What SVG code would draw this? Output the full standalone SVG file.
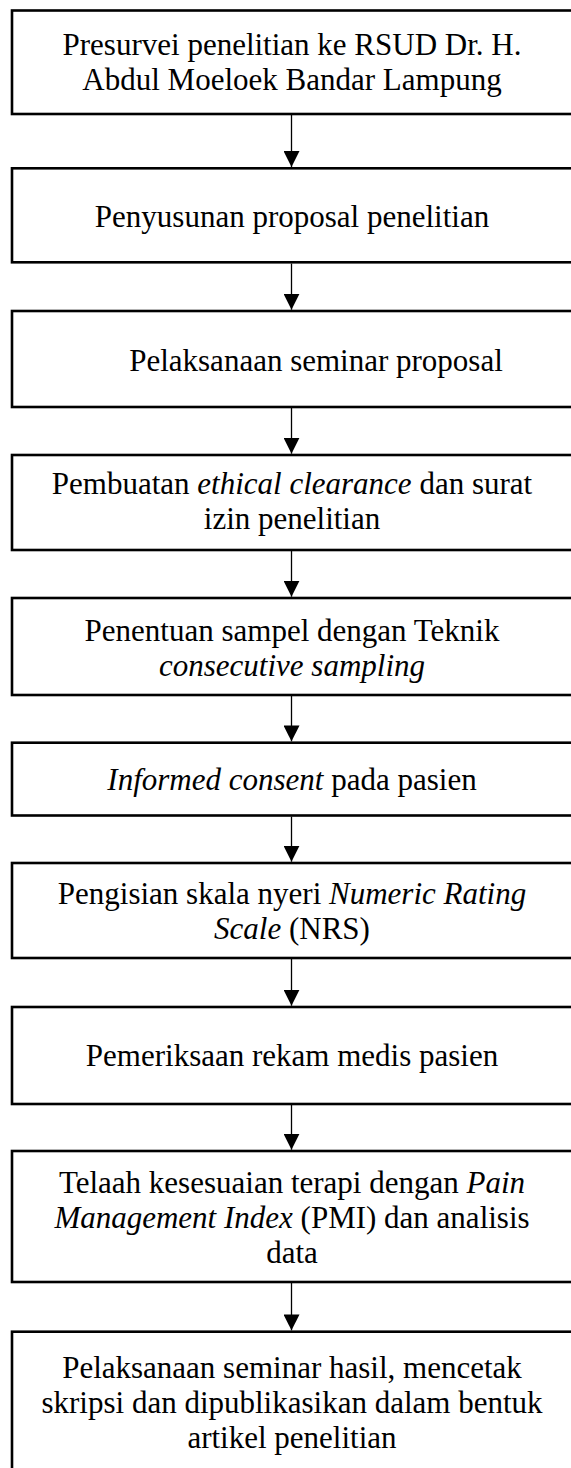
<svg xmlns="http://www.w3.org/2000/svg" width="571" height="1468" viewBox="0 0 571 1468">
  <style>
    .box { fill: #ffffff; stroke: #000000; stroke-width: 2.6; }
    .lbl { font-family: "Liberation Serif", "Times New Roman", serif; font-size: 31px; fill: #000000; text-anchor: middle; }
    .it { font-style: italic; }
    .conn { stroke: #000000; stroke-width: 1.3; fill: none; marker-end: url(#arrow); }
  </style>
  <defs>
    <marker id="arrow" markerUnits="userSpaceOnUse" markerWidth="16" markerHeight="16" viewBox="0 0 15 15" refX="15" refY="7.5" orient="auto">
      <path d="M0,0 L15,7.5 L0,15 Z" fill="#000000"/>
    </marker>
  </defs>
  <rect width="571" height="1468" fill="#ffffff"/>

  <!-- connectors between consecutive steps -->
  <g id="connectors">
    <line class="conn" x1="291.5" y1="115" x2="291.5" y2="167"/>
    <line class="conn" x1="291.5" y1="263.5" x2="291.5" y2="309.7"/>
    <line class="conn" x1="291.5" y1="408" x2="291.5" y2="453.7"/>
    <line class="conn" x1="291.5" y1="551" x2="291.5" y2="596.7"/>
    <line class="conn" x1="291.5" y1="696" x2="291.5" y2="741.4"/>
    <line class="conn" x1="291.5" y1="816.5" x2="291.5" y2="861.7"/>
    <line class="conn" x1="291.5" y1="959" x2="291.5" y2="1005.7"/>
    <line class="conn" x1="291.5" y1="1105" x2="291.5" y2="1149.7"/>
    <line class="conn" x1="291.5" y1="1283" x2="291.5" y2="1330.4"/>
  </g>

  <g id="step1">
    <rect class="box" x="12" y="10.5" width="562" height="103.5"/>
    <text class="lbl" x="292" y="55">Presurvei penelitian ke RSUD Dr. H.</text>
    <text class="lbl" x="292" y="90">Abdul Moeloek Bandar Lampung</text>
  </g>

  <g id="step2">
    <rect class="box" x="12" y="168.3" width="562" height="94"/>
    <text class="lbl" x="292" y="226.5">Penyusunan proposal penelitian</text>
  </g>

  <g id="step3">
    <rect class="box" x="12" y="311" width="562" height="96"/>
    <text class="lbl" x="316" y="370.5">Pelaksanaan seminar proposal</text>
  </g>

  <g id="step4">
    <rect class="box" x="12" y="455" width="562" height="95"/>
    <text class="lbl" x="292" y="494">Pembuatan <tspan class="it">ethical clearance</tspan> dan surat</text>
    <text class="lbl" x="292" y="529">izin penelitian</text>
  </g>

  <g id="step5">
    <rect class="box" x="12" y="598" width="562" height="97"/>
    <text class="lbl" x="292" y="641">Penentuan sampel dengan Teknik</text>
    <text class="lbl it" x="292" y="676">consecutive sampling</text>
  </g>

  <g id="step6">
    <rect class="box" x="12" y="742.7" width="562" height="72.8"/>
    <text class="lbl" x="292" y="790"><tspan class="it">Informed consent</tspan> pada pasien</text>
  </g>

  <g id="step7">
    <rect class="box" x="12" y="863" width="562" height="95"/>
    <text class="lbl" x="292" y="904">Pengisian skala nyeri <tspan class="it">Numeric Rating</tspan></text>
    <text class="lbl" x="292" y="939"><tspan class="it">Scale</tspan> (NRS)</text>
  </g>

  <g id="step8">
    <rect class="box" x="12" y="1007" width="562" height="97"/>
    <text class="lbl" x="292" y="1066">Pemeriksaan rekam medis pasien</text>
  </g>

  <g id="step9">
    <rect class="box" x="12" y="1151" width="562" height="131"/>
    <text class="lbl" x="292" y="1193">Telaah kesesuaian terapi dengan <tspan class="it">Pain</tspan></text>
    <text class="lbl" x="292" y="1228"><tspan class="it">Management Index</tspan> (PMI) dan analisis</text>
    <text class="lbl" x="292" y="1263">data</text>
  </g>

  <g id="step10">
    <rect class="box" x="12" y="1331.7" width="562" height="150"/>
    <text class="lbl" x="292" y="1378">Pelaksanaan seminar hasil, mencetak</text>
    <text class="lbl" x="292" y="1413">skripsi dan dipublikasikan dalam bentuk</text>
    <text class="lbl" x="292" y="1448">artikel penelitian</text>
  </g>
</svg>
